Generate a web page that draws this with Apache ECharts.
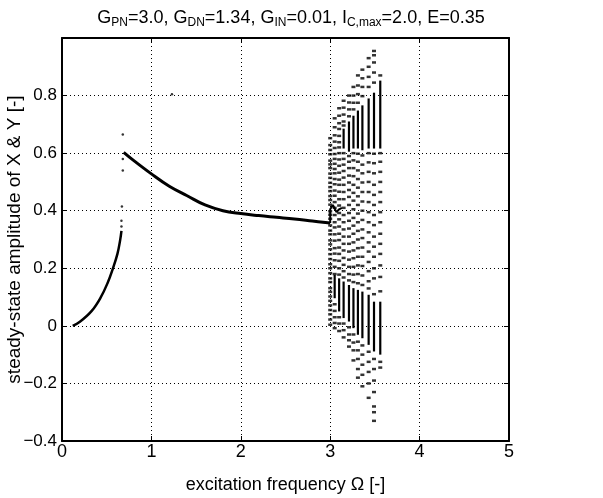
<!DOCTYPE html>
<html>
<head>
<meta charset="utf-8">
<script src="https://cdn.jsdelivr.net/npm/echarts@6/dist/echarts.min.js"></script>
<style>html,body{margin:0;padding:0;background:#fff;}#c{width:603px;height:498px;}</style>
</head>
<body>
<div id="c"></div>
<script>
// ---- data ----
const xTicks = [0, 1, 2, 3, 4, 5];
const yTicks = [-0.4, -0.2, 0, 0.2, 0.4, 0.6, 0.8];

// lower stable branch
const lowX = [0.12, 0.2, 0.33, 0.43, 0.51, 0.57, 0.62, 0.65, 0.665];
const lowY = [0.0, 0.014, 0.051, 0.097, 0.149, 0.2, 0.25, 0.297, 0.33];

// upper stable branch
const upX = [0.69, 0.8, 1.0, 1.2, 1.4, 1.6, 1.8, 2.0, 2.2, 2.4, 2.6, 2.8, 3.0];
const upY = [0.603, 0.575, 0.528, 0.485, 0.452, 0.42, 0.40, 0.39, 0.383, 0.377, 0.371, 0.364, 0.357];

// small wiggle at the start of the chaotic band
const wigX = [3.0, 3.0, 3.03, 3.07, 3.1, 3.13];
const wigY = [0.357, 0.405, 0.42, 0.395, 0.405, 0.41];

// isolated points
const strayX = [0.68, 0.68, 0.68, 0.67, 0.665, 0.665, 1.23];
const strayY = [0.665, 0.58, 0.54, 0.415, 0.365, 0.345, 0.805];

// chaotic band: column positions and the points in each column
const colX = [3.00, 3.05, 3.10, 3.15, 3.21, 3.26, 3.31, 3.36, 3.43, 3.49, 3.56];
const colY = [
  [0.652,0.628,0.611,0.596,0.574,0.561,0.548,0.529,0.514,0.497,0.482,0.468,0.451,0.437,0.421,0.398,0.386,0.372,0.349,0.331,0.318,0.297,0.283,0.266,0.249,0.232,0.214,0.2,0.183,0.165,0.152,0.131,0.118,0.102,0.087,0.071,0.055,0.04,0.022,0.004],
  [0.721,0.69,0.662,0.64,0.618,0.597,0.58,0.563,0.545,0.53,0.51,0.492,0.47,0.452,0.43,0.41,0.385,0.36,0.342,0.318,0.296,0.27,0.251,0.228,0.205,0.18,0.075,0.052,0.03,0.01,-0.008],
  [0.756,0.73,0.704,0.684,0.66,0.638,0.62,0.6,0.578,0.556,0.532,0.508,0.49,0.466,0.44,0.418,0.392,0.37,0.345,0.32,0.298,0.272,0.25,0.226,0.2,0.178,0.03,0.008,-0.018],
  [0.782,0.758,0.734,0.71,0.696,0.6,0.58,0.56,0.538,0.515,0.49,0.465,0.44,0.41,0.385,0.36,0.335,0.31,0.285,0.262,0.236,0.212,0.19,0.168,0.008,-0.015,-0.04],
  [0.8,0.776,0.752,0.728,0.59,0.57,0.548,0.522,0.498,0.472,0.448,0.42,0.392,0.365,0.338,0.31,0.285,0.258,0.23,0.205,0.18,0.158,-0.005,-0.03,-0.05,-0.072],
  [0.83,0.8,0.775,0.752,0.6,0.575,0.548,0.52,0.49,0.462,0.435,0.405,0.375,0.348,0.32,0.29,0.262,0.235,0.205,0.178,0.152,-0.03,-0.058,-0.085,-0.12],
  [0.87,0.835,0.805,0.775,0.598,0.57,0.54,0.51,0.48,0.45,0.42,0.39,0.36,0.33,0.3,0.27,0.24,0.21,0.18,0.148,-0.055,-0.085,-0.115,-0.15,-0.18],
  [0.89,0.86,0.83,0.798,0.592,0.56,0.53,0.498,0.465,0.432,0.4,0.368,0.335,0.305,0.272,0.24,0.208,0.175,0.142,-0.068,-0.1,-0.135,-0.17,-0.21],
  [0.93,0.9,0.865,0.83,0.6,0.568,0.535,0.5,0.465,0.43,0.395,0.36,0.325,0.29,0.258,0.222,0.19,0.155,0.13,-0.09,-0.125,-0.16,-0.2,-0.25],
  [0.955,0.94,0.915,0.88,0.845,0.598,0.565,0.53,0.49,0.455,0.42,0.385,0.35,0.31,0.275,0.24,0.2,0.165,0.11,-0.115,-0.15,-0.19,-0.23,-0.28,-0.3,-0.33],
  [0.87,0.6,0.57,0.535,0.5,0.465,0.43,0.395,0.36,0.32,0.285,0.25,0.21,0.17,0.12,-0.125,-0.145]
];
// dense vertical runs of points in each column: [low, high] (null = none)
const upperRuns = [null, null, null, [0.616,0.685], [0.605,0.71], [0.616,0.73], [0.616,0.748], [0.61,0.766], [0.616,0.79], [0.616,0.81], [0.616,0.852]];
const lowerRuns = [null, [0.096,0.177], [0.05,0.165], [0.027,0.154], [0.015,0.142], [-0.008,0.131], [-0.031,0.125], [-0.043,0.119], [-0.066,0.108], [-0.089,0.084], [-0.10,0.084]];

// ---- build series data ----
const zip = (xs, ys) => xs.map((x, i) => [x, ys[i]]);
const bandPts = [];
colX.forEach((x, i) => colY[i].forEach(y => bandPts.push([x, y])));
const runs = [];
colX.forEach((x, i) => {
  if (upperRuns[i]) runs.push([x, upperRuns[i][0], upperRuns[i][1]]);
  if (lowerRuns[i]) runs.push([x, lowerRuns[i][0], lowerRuns[i][1]]);
});

const FONT = '"Liberation Sans", Arial, Helvetica, sans-serif';
const fmt = v => {
  if (Math.abs(v - 1) < 1e-9) return '';
  const s = String(+(+v).toFixed(1));
  return s.replace('-', '\u2212');
};

const axisLine = { show: true, onZero: false, lineStyle: { color: '#000', width: 2 } };
const tick = { show: true, inside: true, length: 5, lineStyle: { color: '#000', width: 1 } };
const grid = { show: true, lineStyle: { color: '#000', width: 1, type: [1, 3] } };

const chart = echarts.init(document.getElementById('c'), null, { renderer: 'canvas' });
chart.setOption({
  animation: false,
  backgroundColor: '#fff',
  title: {
    text: '{n|G}{s|PN}{n|=3.0, G}{s|DN}{n|=1.34, G}{s|IN}{n|=0.01, I}{s|C,max}{n|=2.0, E=0.35}',
    left: 286, top: 3, textAlign: 'center',
    textStyle: {
      fontFamily: FONT, color: '#000', fontWeight: 'normal',
      rich: {
        n: { fontFamily: FONT, fontSize: 18, color: '#000', fontWeight: 'normal' },
        s: { fontFamily: FONT, fontSize: 12, color: '#000', fontWeight: 'normal', padding: [9, 0, 0, 0] }
      }
    }
  },
  grid: { left: 62, right: 94, top: 38, bottom: 57, containLabel: false, outerBoundsMode: 'none' },
  xAxis: [{
    type: 'value', min: xTicks[0], max: xTicks[xTicks.length - 1], interval: 1,
    position: 'bottom',
    axisLine, axisTick: tick, splitLine: grid,
    axisLabel: { color: '#000', fontSize: 18, fontFamily: FONT, margin: 2, formatter: v => String(v) },
    name: 'excitation frequency \u03A9 [-]', nameLocation: 'middle', nameGap: 35, nameMoveOverlap: false,
    nameTextStyle: { color: '#000', fontSize: 18, fontFamily: FONT }
  }, {
    type: 'value', min: xTicks[0], max: xTicks[xTicks.length - 1], interval: 1,
    position: 'top', axisLine, axisTick: tick, splitLine: { show: false }, axisLabel: { show: false }
  }],
  yAxis: [{
    type: 'value', min: yTicks[0], max: 1.0, interval: 0.2,
    position: 'left',
    axisLine, axisTick: tick, splitLine: grid,
    axisLabel: { color: '#000', fontSize: 17, fontFamily: FONT, margin: 5, formatter: fmt },
    name: 'steady-state amplitude of X & Y [-]', nameLocation: 'middle', nameGap: 38, nameMoveOverlap: false,
    nameTextStyle: { color: '#000', fontSize: 19, fontFamily: FONT }
  }, {
    type: 'value', min: yTicks[0], max: 1.0, interval: 0.2,
    position: 'right', axisLine, axisTick: tick, splitLine: { show: false }, axisLabel: { show: false }
  }],
  series: [
    { type: 'line', data: zip(lowX, lowY), smooth: 0.4, showSymbol: false,
      lineStyle: { color: '#000', width: 2.5 }, z: 5 },
    { type: 'line', data: zip(upX, upY), smooth: 0.4, showSymbol: false,
      lineStyle: { color: '#000', width: 3 }, z: 5 },
    { type: 'line', data: zip(wigX, wigY), smooth: false, showSymbol: false,
      lineStyle: { color: '#000', width: 2 }, z: 5 },
    { type: 'scatter', data: zip(strayX, strayY), symbolSize: 2.5,
      itemStyle: { color: '#000' }, z: 6 },
    { type: 'scatter', data: bandPts, symbol: 'rect', symbolSize: [4, 2.5],
      itemStyle: { color: '#000' }, z: 6 },
    { type: 'custom', data: runs, z: 6,
      renderItem: (params, api) => {
        const p1 = api.coord([api.value(0), api.value(1)]);
        const p2 = api.coord([api.value(0), api.value(2)]);
        return { type: 'line', shape: { x1: p1[0], y1: p1[1], x2: p2[0], y2: p2[1] },
          style: { stroke: '#000', lineWidth: 2.2 } };
      }
    }
  ]
});
</script>
</body>
</html>
